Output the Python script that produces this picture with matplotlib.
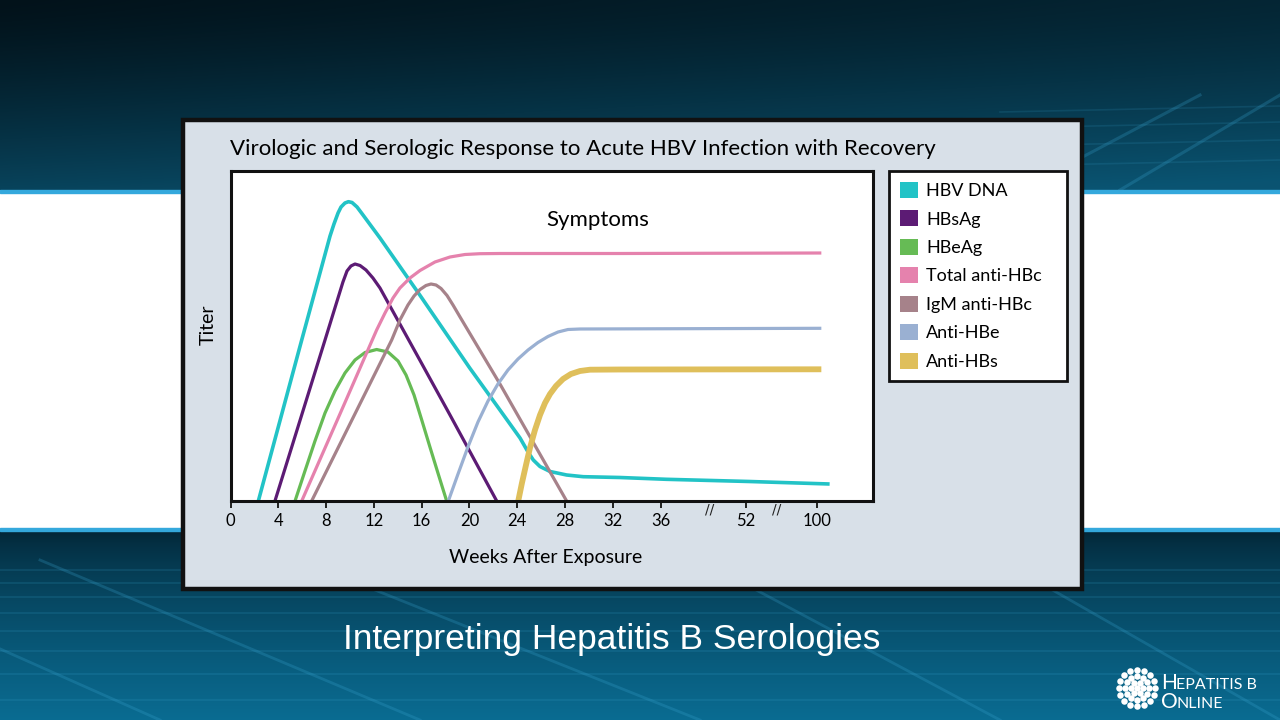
import numpy as np
import matplotlib.pyplot as plt
from matplotlib.patches import Rectangle, Patch
from matplotlib.scale import FuncScale
import matplotlib.transforms as mtransforms

W, H = 1280, 720
CHART_FONT = ["Lato", "DejaVu Sans"]
SLIDE_FONT = ["Liberation Sans", "DejaVu Sans"]

# weeks after exposure -> relative titer
hbv_dna_weeks = [2.33, 5.96, 8.33, 8.66, 9.0, 9.25, 9.58, 9.87, 10.17, 10.59, 11.09, 12.51, 15.84,
                 20.02, 22.55, 24.23, 24.9, 25.34, 25.9, 26.74, 28.13, 29.52, 32.59, 37.07, 54.7, 108.8]
hbv_dna_titer = [0, 161, 265, 277, 288, 294, 298, 299.3, 298.5, 294, 286, 263, 206,
                 133, 91, 63, 49, 41, 34.5, 29.5, 26, 24.3, 23.5, 21.7, 19.5, 17]

hbsag_weeks = [3.72, 7.91, 9.41, 9.75, 10.08, 10.42, 10.84, 11.34, 11.92, 12.51, 15.84, 18.37, 22.28]
hbsag_titer = [0, 161, 219, 230, 235, 237, 235.5, 231, 223, 213, 141, 86, 0]

hbeag_weeks = [5.4, 6.23, 7.07, 7.91, 8.74, 9.58, 10.42, 11.26, 12.23, 13.18, 14.02, 14.69, 15.36,
               16.03, 16.69, 17.36, 18.09]
hbeag_titer = [0, 30, 60, 88, 110, 128, 141, 148.5, 151.5, 149, 140, 126, 106, 80, 54, 28, 0]

total_hbc_weeks = [5.96, 9.16, 12.23, 12.93, 13.6, 14.18, 15.02, 15.86, 17.11, 18.37, 19.62, 20.87,
                   22.55, 32.59, 103.2]
total_hbc_titer = [0, 87, 171, 188, 203, 213, 223, 230.5, 239, 244, 246.5, 247.3, 247.5, 247.5, 248]

igm_hbc_weeks = [6.79, 13.49, 14.18, 14.85, 15.36, 15.86, 16.36, 16.78, 17.2, 17.62, 18.12, 18.62,
                 19.21, 22.55, 28.13]
igm_hbc_titer = [0, 161, 181, 196, 205, 211.5, 215.5, 217, 216, 212.5, 205.5, 196, 184, 117, 0]

anti_hbe_weeks = [18.23, 19.04, 19.87, 20.71, 21.55, 22.38, 23.22, 24.06, 24.9, 25.73, 26.57, 27.41,
                  28.24, 29.25, 103.2]
anti_hbe_titer = [0, 27, 54, 79, 100, 117, 131, 142, 151, 158.5, 164.5, 169, 171.5, 172, 172.7]

anti_hbs_weeks = [24.08, 24.39, 24.73, 25.06, 25.48, 25.9, 26.32, 26.74, 27.24, 27.83, 28.49, 29.25,
                  30.08, 32.59, 103.2]
anti_hbs_titer = [0, 18, 36, 53, 71, 86, 98, 107, 115, 122, 127, 130, 131.3, 131.5, 131.7]

series_labels = ["HBV DNA", "HBsAg", "HBeAg", "Total anti-HBc", "IgM anti-HBc", "Anti-HBe", "Anti-HBs"]
series_colors = ["#22c3c6", "#5c1b74", "#66bb55", "#e582ad", "#a6828a", "#9ab0d2", "#dfbf5b"]
series_widths = [2.6, 2.3, 2.3, 2.3, 2.3, 2.3, 4.2]

tick_weeks = [0, 4, 8, 12, 16, 20, 24, 28, 32, 36, 52, 100]
tick_labels = [str(t) for t in tick_weeks]
break_weeks = [45.3, 73.2]

# broken time axis: 0-36 linear, then compressed segments to 52 and 100
axis_weeks = [0, 36, 52, 100, 140]
axis_pos = [0, 36, 43.1, 49.05, 54.0]


def fwd(w):
    return np.interp(w, axis_weeks, axis_pos)


def inv(p):
    return np.interp(p, axis_pos, axis_weeks)


def px(x, y):
    """pixel position (from top-left) -> figure fraction"""
    return x / W, 1 - y / H


fig = plt.figure(figsize=(12.8, 7.2), dpi=100)

# ---- slide background ----
bg = fig.add_axes([0, 0, 1, 1])
bg.set_xlim(0, W)
bg.set_ylim(H, 0)
bg.axis("off")

yy, xx = np.mgrid[0:H, 0:W]
img = np.ones((H, W, 3))
top_a = np.array([2, 18, 26]) / 255
top_b = np.array([10, 84, 114]) / 255
t = np.clip(yy / 190, 0, 1) ** 1.3 * 0.75 + (xx / W) * 0.3
t = np.clip(t, 0, 1)[..., None]
top = top_a + (top_b - top_a) * t
bot_a = np.array([3, 36, 52]) / 255
bot_b = np.array([10, 108, 146]) / 255
tb = np.clip((yy - 530) / 190, 0, 1) ** 0.7
tb = tb[..., None]
bot = bot_a + (bot_b - bot_a) * tb
img = np.where((yy < 190)[..., None], top, img)
img = np.where((yy > 530)[..., None], bot, img)
bg.imshow(img, extent=[0, W, H, 0], aspect="auto", zorder=0)

for y in [190, 528]:
    bg.axhspan(y, y + 3, color="#34a8dc", zorder=1)

# faint perspective grid
for y in [570, 583, 597, 613, 631, 651, 674, 700]:
    bg.plot([0, W], [y, y], color="#3aa6d2", alpha=0.18, lw=1.2, zorder=1)
for x0, x1 in [(-200, 160), (40, 420), (300, 700), (700, 1000), (1000, 1280)]:
    bg.plot([x0, x1], [560, H], color="#3aa6d2", alpha=0.25, lw=2, zorder=1)
for y in [112, 128, 146, 166]:
    bg.plot([1000, W], [y, y - 6], color="#3aa6d2", alpha=0.15, lw=1.2, zorder=1)
for x0, x1 in [(1120, 1280), (1020, 1200)]:
    bg.plot([x0, x1], [190, 95], color="#3aa6d2", alpha=0.25, lw=2.2, zorder=1)

# chart panel
bg.add_patch(Rectangle((183, 120), 899, 469, facecolor="#d8e0e8", edgecolor="#111111",
                       lw=3.2, zorder=2))

# slide title + logo
fig.text(*px(612, 640), "Interpreting Hepatitis B Serologies", color="white",
         fontsize=25.5, family=SLIDE_FONT, ha="center", va="center")
dx, dy = [0], [0]
for r, n in [(6, 6), (12, 12), (18, 16)]:
    a = np.linspace(0, 2 * np.pi, n, endpoint=False)
    dx += list(r * np.cos(a))
    dy += list(r * np.sin(a))
bg.scatter(1137 + np.array(dx), 688 + np.array(dy), s=22, color="white", zorder=3, lw=0)
for xh, xr, y, first, rest in [(1161, 1176, 689, "H", "EPATITIS B"), (1161, 1177, 708, "O", "NLINE")]:
    bg.text(xh, y, first, color="white", fontsize=15, family=CHART_FONT, va="baseline")
    bg.text(xr, y, rest, color="white", fontsize=11.5, family=CHART_FONT, va="baseline")

# ---- chart ----
left, right, top_px, bottom_px = 230.5, 872.8, 171, 501
ax = fig.add_axes([left / W, 1 - bottom_px / H, (right - left) / W, (bottom_px - top_px) / H])
ax.set_xscale(FuncScale(ax.xaxis, (fwd, inv)))
ax.set_xlim(0, 138)
ax.set_ylim(0, 330)

all_weeks = [hbv_dna_weeks, hbsag_weeks, hbeag_weeks, total_hbc_weeks, igm_hbc_weeks,
             anti_hbe_weeks, anti_hbs_weeks]
all_titer = [hbv_dna_titer, hbsag_titer, hbeag_titer, total_hbc_titer, igm_hbc_titer,
             anti_hbe_titer, anti_hbs_titer]
for wk, ti, c, lw in zip(all_weeks, all_titer, series_colors, series_widths):
    ax.plot(wk, ti, color=c, lw=lw, solid_joinstyle="round", solid_capstyle="butt")

for s in ax.spines.values():
    s.set_linewidth(2.2)
    s.set_color("#111111")
ax.set_xticks(tick_weeks)
ax.set_xticklabels(tick_labels, family=CHART_FONT, fontsize=12)
ax.set_yticks([])
ax.xaxis.set_minor_locator(plt.NullLocator())
ax.tick_params(axis="x", direction="out", length=5, width=1.3, pad=4, color="#111111")

brk = mtransforms.blended_transform_factory(ax.transData, ax.transAxes)
for b in break_weeks:
    ax.text(b, -0.004, "//", transform=brk, ha="center", va="top", fontsize=10,
            color="#222222", clip_on=False)

ax.text(0.572, 0.852, "Symptoms", transform=ax.transAxes, ha="center", va="center",
        fontsize=16, family=CHART_FONT)

fig.text(*px(230, 149), "Virologic and Serologic Response to Acute HBV Infection with Recovery",
         fontsize=16, family=CHART_FONT, va="center", ha="left")
fig.text(*px(208, 325), "Titer", fontsize=14, family=CHART_FONT, rotation=90,
         ha="center", va="center")
fig.text(*px(546, 558), "Weeks After Exposure", fontsize=14, family=CHART_FONT,
         ha="center", va="center")

handles = [Patch(facecolor=c, edgecolor="none") for c in series_colors]
x0, y0 = px(889, 382)
leg = fig.legend(handles, series_labels, loc="upper left",
                 bbox_to_anchor=(x0, y0, 178 / W, 211 / H), mode="expand",
                 bbox_transform=fig.transFigure, prop={"family": CHART_FONT, "size": 13},
                 frameon=True, fancybox=False, framealpha=1, edgecolor="#111111",
                 handlelength=1.0, handleheight=1.0, handletextpad=0.45,
                 labelspacing=0.62, borderpad=0.6, borderaxespad=0)
leg.get_frame().set_linewidth(2)

fig.savefig("out.png", dpi=100)
